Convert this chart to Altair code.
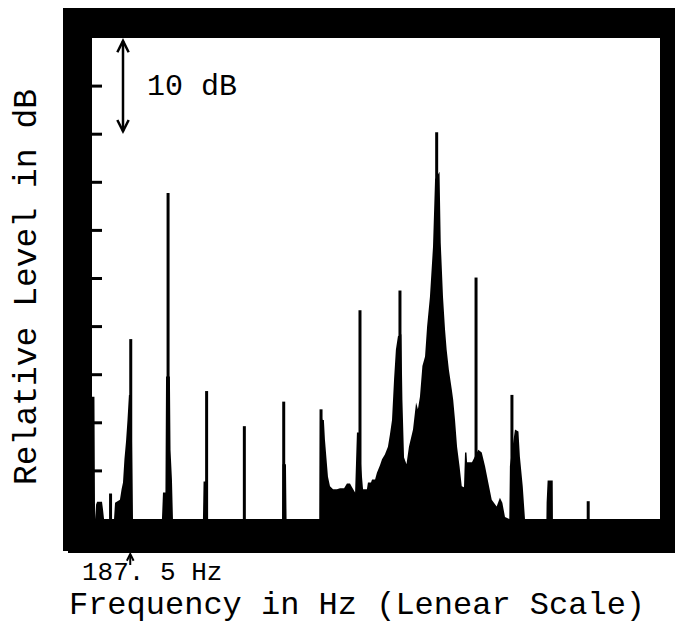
import altair as alt
import pandas as pd

# ---- data (frequency in Hz, level in dB above floor) ----
env_hz = [0, 12, 15, 20, 25, 49, 54, 59, 108, 113, 137, 145, 152, 159, 167, 174, 181, 186, 196, 201,
          343, 348, 360, 363, 382, 385, 392, 397,
          544, 547, 559, 569,
          932, 934, 951, 954,
          1115, 1118, 1130, 1137, 1142, 1150, 1157, 1167, 1182, 1201, 1216, 1236, 1250, 1265, 1275,
          1290, 1299, 1309, 1321, 1329, 1348, 1353, 1368, 1373, 1388, 1397, 1412, 1422, 1436, 1451,
          1461, 1471, 1481, 1490, 1500, 1517, 1522, 1530, 1542, 1554, 1574, 1589, 1598, 1608, 1620,
          1633, 1643, 1657, 1672, 1682, 1704, 1710, 1721, 1731, 1739, 1750, 1764, 1771, 1780, 1790,
          1802, 1813, 1824, 1829, 1836, 1839, 1863, 1894, 1911, 1927, 1943, 1960, 1984, 2000, 2012,
          2025, 2046, 2049, 2074, 2091, 2098, 2112, 2123,
          2228, 2229, 2234, 2259, 2260, 2785]
env_db = [12.7, 12.7, 0, 1.5, 1.8, 1.8, 1.0, 0, 0, 1.7, 2.0, 3.1, 3.8, 6.2, 8.1, 10.3, 12.9, 12.9, 8.3, 0,
          0, 2.75, 2.75, 14.8, 14.8, 7.2, 4.1, 0,
          0, 3.9, 3.9, 0,
          0, 5.7, 5.7, 0,
          0, 11.4, 10.3, 10.3, 8.3, 6.2, 4.4, 3.4, 3.1, 3.1, 3.2, 3.2, 3.7, 3.7, 3.3,
          2.75, 9.0, 9.0, 5.1, 3.1, 3.1, 3.8, 3.8, 4.1, 4.1, 4.8, 5.6, 6.2, 6.7, 7.5,
          8.8, 10.3, 14.5, 17.6, 19.0, 19.2, 12.4, 6.4, 5.7, 7.5, 9.3, 12.1, 11.4, 12.7, 15.9,
          16.9, 20.0, 23.1, 28.3, 35.3, 36.1, 28.7, 23.1, 19.7, 17.6, 15.5, 13.5, 12.4, 10.3, 7.5,
          5.5, 3.4, 3.3, 6.9, 6.9, 5.9, 5.9, 7.2, 6.9, 5.5, 3.8, 2.0, 1.3, 2.2, 1.7,
          0.2, 0, 5.5, 9.3, 9.1, 6.5, 3.4, 0,
          0, 1.7, 4.0, 4.0, 0, 0]

spike_hz = [91, 190, 373, 562, 747, 940, 1123, 1314, 1510, 1690, 1883, 2059, 2433]
spike_db = [2.65, 18.7, 33.9, 13.3, 9.65, 12.2, 11.4, 21.7, 23.75, 40.2, 25.1, 12.9, 1.85]

tick_db = [5, 10, 15, 20, 25, 30, 35, 40, 45]

scale_arrow_hz = [152]
scale_arrow_lo = [40.3]
scale_arrow_hi = [49.7]
scale_label_hz = [270]
scale_label_db = [45]
scale_label = "10 dB"

fund_hz = [187.5]
fund_label = "187. 5 Hz"
x_title = "Frequency in Hz (Lenear Scale)"
y_title = "Relative Level in dB"

FONT = "Liberation Mono"
W, H = 568, 481
PAD = {"left": 84, "top": 30, "right": 15, "bottom": 105}

xs = alt.Scale(domain=[0, 2785], nice=False, zero=False)
ys = alt.Scale(domain=[0, 50], nice=False, zero=False)

env = pd.DataFrame({"hz": env_hz, "db": env_db})
spk = pd.DataFrame({"hz": spike_hz, "db": spike_db})
tks = pd.DataFrame({"db": tick_db})
arr = pd.DataFrame({"hz": scale_arrow_hz, "lo": scale_arrow_lo, "hi": scale_arrow_hi})
lab = pd.DataFrame({"hz": scale_label_hz, "db": scale_label_db})
fund = pd.DataFrame({"hz": fund_hz})
one = pd.DataFrame({"k": [0]})

X = alt.X("hz:Q", scale=xs, axis=None)

area = alt.Chart(env).mark_area(color="black", interpolate="linear").encode(
    x=X, y=alt.Y("db:Q", scale=ys, axis=None),
)

spikes = alt.Chart(spk).mark_rule(color="black", strokeWidth=3).encode(
    x=X, y=alt.Y("db:Q", scale=ys, axis=None), y2=alt.datum(0),
)

ticks = alt.Chart(tks).mark_rule(color="black", strokeWidth=3).encode(
    y=alt.Y("db:Q", scale=ys, axis=None), x=alt.value(0), x2=alt.value(10),
)

shaft = alt.Chart(arr).mark_rule(color="black", strokeWidth=2.5).encode(
    x=X, y=alt.Y("lo:Q", scale=ys, axis=None), y2="hi:Q",
)
head_up = alt.Chart(arr).mark_point(
    shape="M-0.8,1.6L0,0L0.8,1.6", filled=False, color="black", strokeWidth=2.5, size=200, opacity=1
).encode(x=X, y=alt.Y("hi:Q", scale=ys, axis=None))
head_dn = alt.Chart(arr).mark_point(
    shape="M-0.8,-1.6L0,0L0.8,-1.6", filled=False, color="black", strokeWidth=2.5, size=200, opacity=1
).encode(x=X, y=alt.Y("lo:Q", scale=ys, axis=None))

label10 = alt.Chart(lab).mark_text(
    font=FONT, fontSize=30, align="left", baseline="middle", color="black"
).encode(x=X, y=alt.Y("db:Q", scale=ys, axis=None), text=alt.value(scale_label))

# black picture frame around the display
R = W + PAD["right"]
frame = [
    alt.Chart(one).mark_rect(color="black").encode(x=alt.value(-29), x2=alt.value(R), y=alt.value(-30), y2=alt.value(0)),
    alt.Chart(one).mark_rect(color="black").encode(x=alt.value(-29), x2=alt.value(0), y=alt.value(-30), y2=alt.value(H + 32)),
    alt.Chart(one).mark_rect(color="black").encode(x=alt.value(-24), x2=alt.value(R), y=alt.value(H), y2=alt.value(H + 34)),
    alt.Chart(one).mark_rect(color="black").encode(x=alt.value(W), x2=alt.value(R), y=alt.value(-30), y2=alt.value(H + 34)),
]

fund_shaft = alt.Chart(fund).mark_rule(color="black", strokeWidth=2).encode(
    x=X, y=alt.value(H + 37), y2=alt.value(H + 46)
)
fund_head = alt.Chart(fund).mark_point(
    shape="M-0.8,1.6L0,0L0.8,1.6", filled=False, color="black", strokeWidth=2, size=70, opacity=1
).encode(x=X, y=alt.value(H + 35))
fund_text = alt.Chart(fund).mark_text(
    font=FONT, fontSize=26, align="center", baseline="alphabetic", dx=22, color="black"
).encode(x=X, y=alt.value(H + 61), text=alt.value(fund_label))

xt = alt.Chart(one).mark_text(
    font=FONT, fontSize=32, align="center", baseline="alphabetic", color="black"
).encode(x=alt.value(265), y=alt.value(H + 94.5), text=alt.value(x_title))

yt = alt.Chart(one).mark_text(
    font=FONT, fontSize=33, align="center", baseline="alphabetic", angle=270, color="black"
).encode(x=alt.value(-56), y=alt.value(249), text=alt.value(y_title))

chart = alt.layer(
    area, spikes, ticks, shaft, head_up, head_dn, label10, *frame, fund_shaft, fund_head, fund_text, xt, yt
).properties(
    width=W, height=H,
    padding=PAD,
    autosize=alt.AutoSizeParams(type="none"),
    background="white",
).configure_view(stroke=None)

chart.save("out.html", embed_options={"renderer": "svg", "actions": False})
